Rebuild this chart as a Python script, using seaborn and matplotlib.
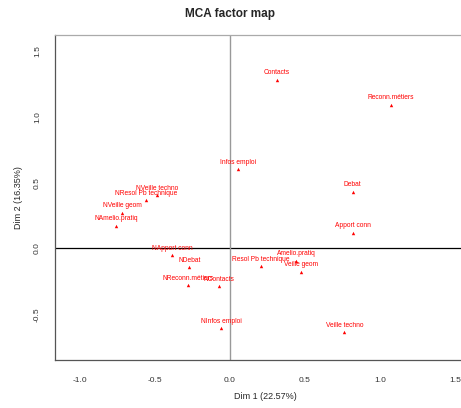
import pandas as pd
import matplotlib
matplotlib.use("Agg")
import matplotlib.pyplot as plt
import seaborn as sns

# MCA category coordinates
labels = ["Contacts", "Reconn.métiers", "Infos emploi", "Debat", "Apport conn",
          "Veille techno", "Amelio.pratiq", "Veille geom", "Resol Pb technique",
          "NInfos emploi", "NContacts", "NReconn.métiers", "NDebat", "NApport conn",
          "NVeille techno", "NResol Pb technique", "NVeille geom", "NAmelio.pratiq"]
dim1 = [0.311, 1.073, 0.055, 0.818, 0.818,
        0.762, 0.440, 0.471, 0.205,
        -0.060, -0.073, -0.278, -0.271, -0.385,
        -0.487, -0.560, -0.720, -0.762]
dim2 = [1.283, 1.093, 0.602, 0.430, 0.121,
        -0.636, -0.094, -0.178, -0.134,
        -0.607, -0.286, -0.279, -0.142, -0.051,
        0.405, 0.367, 0.273, 0.172]

df = pd.DataFrame({"label": labels, "dim1": dim1, "dim2": dim2})

sns.set_style("white")
plt.rcParams['font.family'] = ['Liberation Sans', 'DejaVu Sans']

fig = plt.figure(figsize=(4.61, 4.08), dpi=100)
# axes box runs past the right edge of the picture, like the reference
ax = fig.add_axes([55 / 461, 48 / 408, 420 / 461, 325 / 408])

ax.axhline(0, color="black", lw=0.9, zorder=1)
ax.axvline(0, color="#999999", lw=1.0, zorder=1)

sns.scatterplot(data=df, x="dim1", y="dim2", marker="^", color="red",
                s=6, linewidth=0, ax=ax, zorder=3)
for _, r in df.iterrows():
    ax.annotate(r["label"], (r["dim1"], r["dim2"]), xytext=(0, 2.5),
                textcoords="offset points", ha="center", va="bottom",
                color="red", fontsize=4.8)

ax.set_xlim(-1.167, 1.633)
ax.set_ylim(-0.848, 1.622)
ax.set_xticks([-1.0, -0.5, 0.0, 0.5, 1.0, 1.5])
ax.set_yticks([-0.5, 0.0, 0.5, 1.0, 1.5])
ax.set_xticklabels(["-1.0", "-0.5", "0.0", "0.5", "1.0", "1.5"])
ax.set_yticklabels(["-0.5", "0.0", "0.5", "1.0", "1.5"], rotation=90, va="center")
ax.tick_params(axis="both", direction="out", length=4, width=0.8,
               labelsize=6, colors="#333333", pad=6)
ax.tick_params(axis="x", pad=8)

for side in ["left", "bottom"]:
    ax.spines[side].set_color("#555555")
    ax.spines[side].set_linewidth(0.9)
ax.spines["top"].set_color("#aaaaaa")
ax.spines["top"].set_linewidth(0.9)
ax.spines["right"].set_visible(False)

ax.set_xlabel("Dim 1 (22.57%)", fontsize=6.5, labelpad=6)
ax.set_ylabel("Dim 2 (16.35%)", fontsize=6.5, labelpad=8)
fig.text(230 / 461, 1 - 14 / 408, "MCA factor map", ha="center", va="center",
         fontsize=8.5, fontweight="bold")

fig.savefig("out.png", dpi=100)
